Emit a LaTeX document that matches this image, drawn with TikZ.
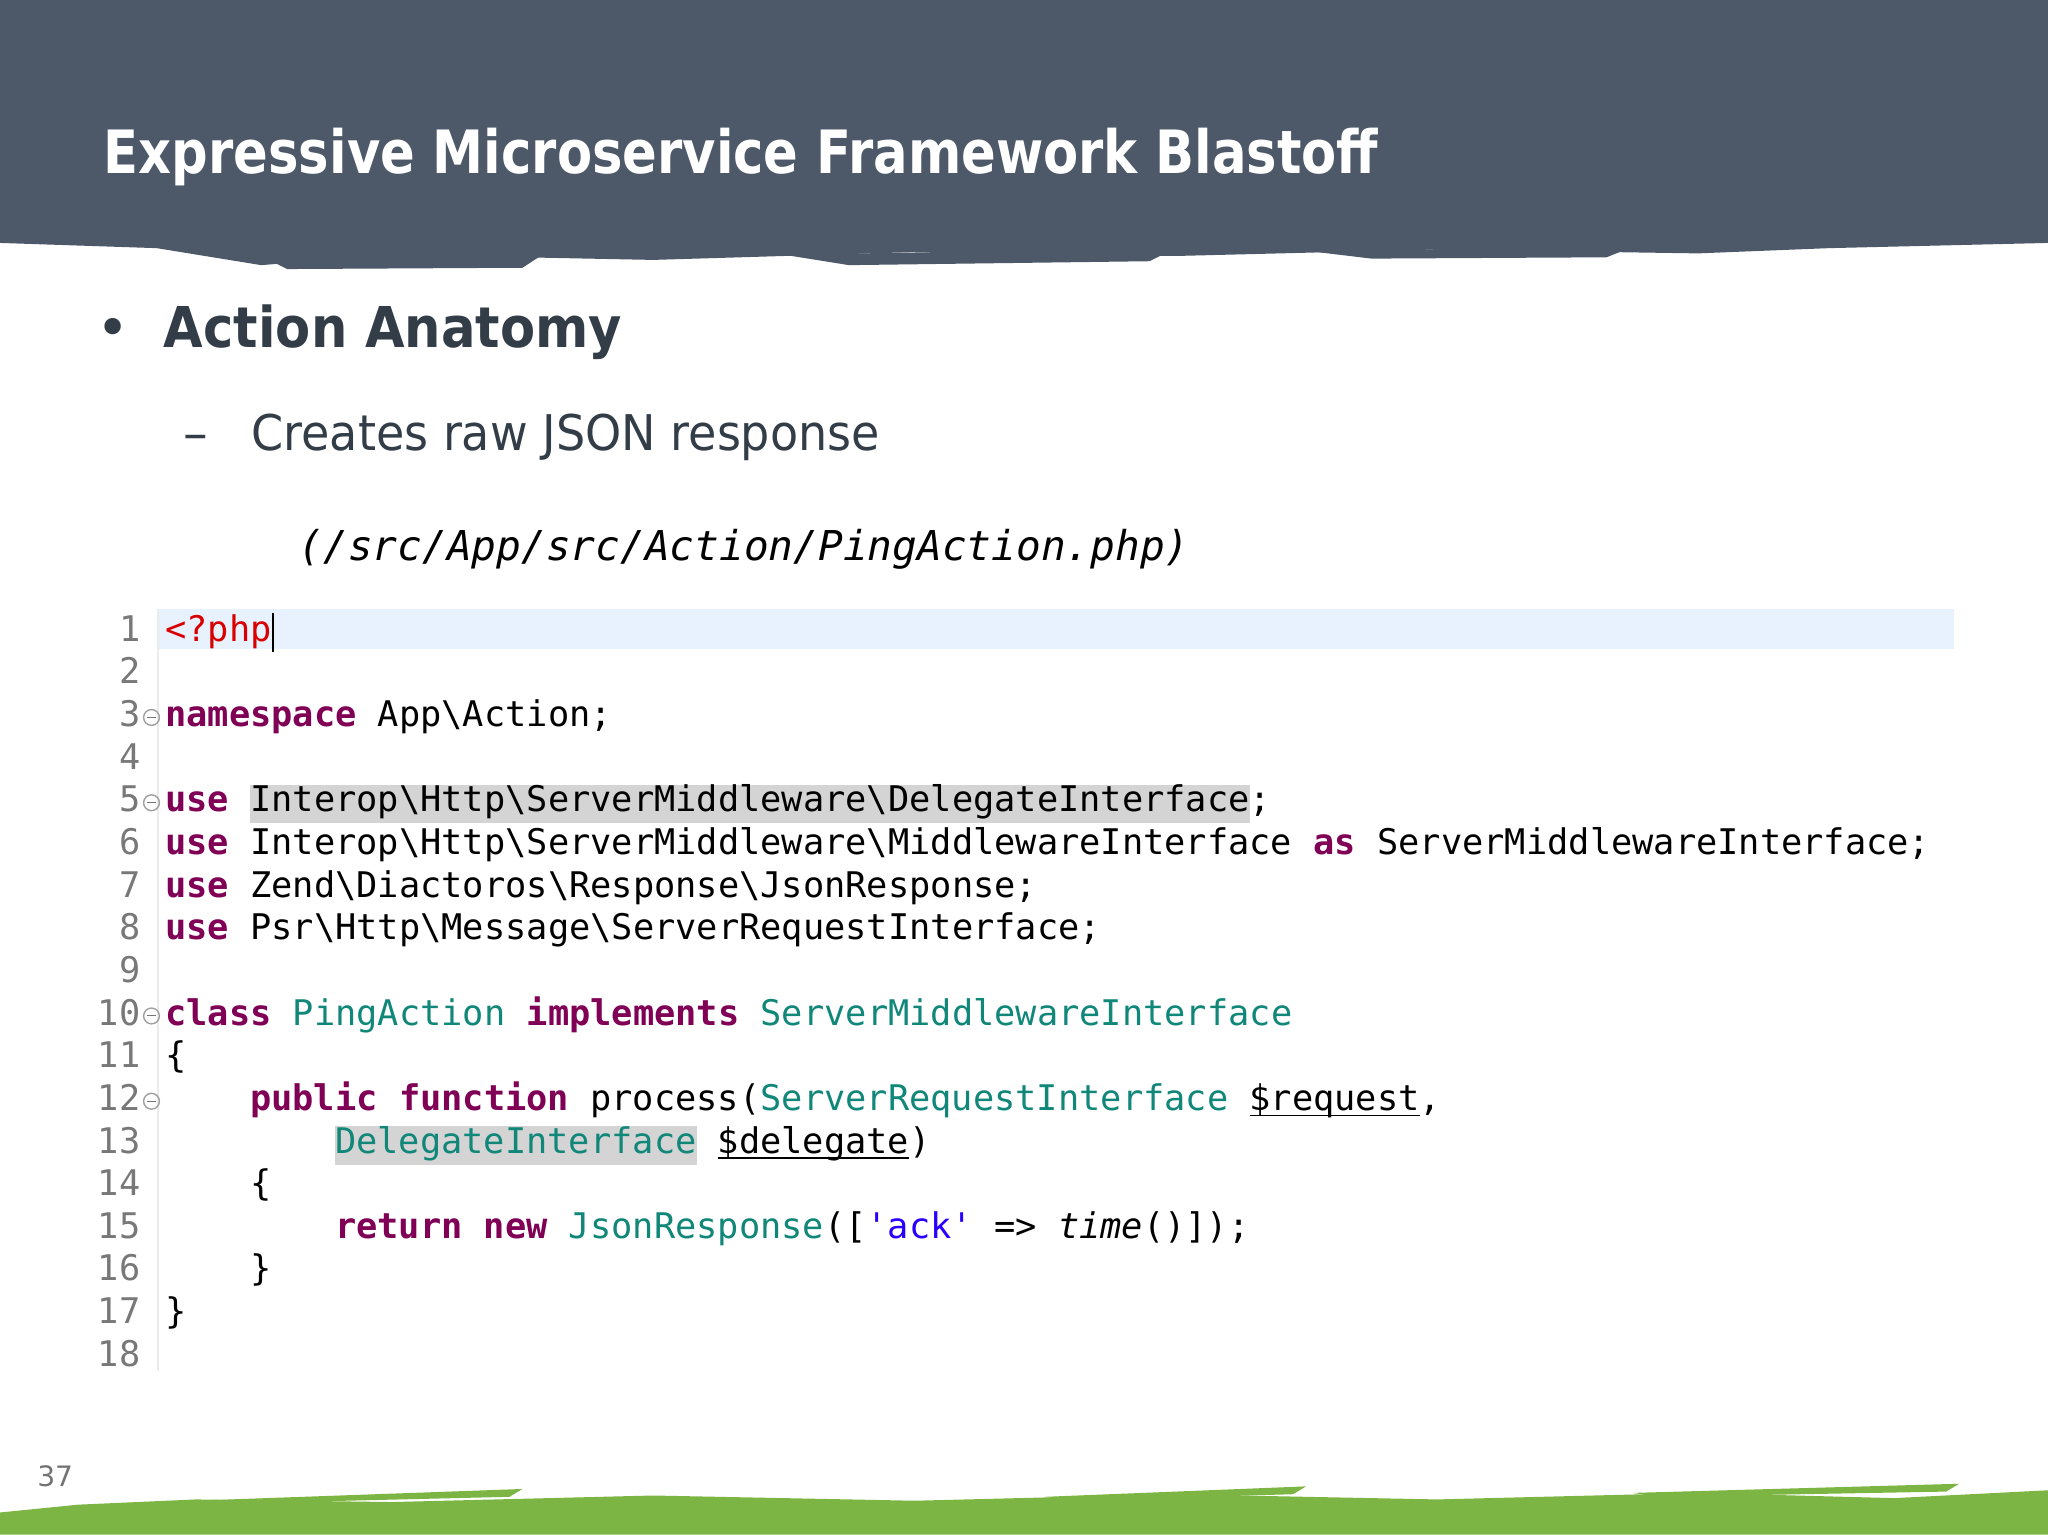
\documentclass[tikz,border=0pt]{standalone}
\usepackage{fontspec}
\setmainfont{DejaVu Sans}
\setmonofont{DejaVu Sans Mono}
\definecolor{hdr}{HTML}{4D5968}
\definecolor{txt}{HTML}{333D48}
\definecolor{kw}{HTML}{7F0055}
\definecolor{ty}{HTML}{11877A}
\definecolor{str}{HTML}{2A00FF}
\definecolor{lno}{HTML}{787878}
\definecolor{grn}{HTML}{7DB544}
\definecolor{hl}{HTML}{E8F2FE}
\newcommand{\bs}{\textbackslash}
\newcommand{\K}[1]{\textcolor{kw}{\bfseries #1}}
\newcommand{\T}[1]{\textcolor{ty}{#1}}
\newcommand{\G}[1]{\colorbox{black!17}{\strut #1}}
\newcommand{\U}[1]{\underline{\smash{#1}}}
\begin{document}
\begin{tikzpicture}[x=0.01306cm,y=-0.01306cm,
  code/.style={anchor=base west,inner sep=0pt,font=\ttfamily\fontsize{10.05}{11}\selectfont},
  num/.style={anchor=base east,inner sep=0pt,text=lno,font=\ttfamily\fontsize{10.05}{11}\selectfont},
  fold/.style={circle,draw=lno!70,inner sep=0pt,minimum size=4.5pt,path picture={\draw[lno,line width=0.3pt] ([xshift=-1.3pt]path picture bounding box.center)--([xshift=1.3pt]path picture bounding box.center);}}]
\useasboundingbox (0,0) rectangle (1568,1175);
% header
\fill[hdr] (0,0) -- (1568,0) -- (1568,186) -- (1400,190) -- (1300,194) -- (1100,191) -- (900,196) -- (700,193) -- (500,199) -- (300,195) -- (200,203) -- (120,190) -- (0,186) -- cycle;
\fill[hdr] (200,196) -- (420,192) -- (400,205) -- (220,206) -- cycle;
\fill[hdr] (600,195) -- (900,190) -- (880,200) -- (650,203) -- cycle;
\fill[hdr] (1000,192) -- (1250,189) -- (1230,197) -- (1050,198) -- cycle;
\node[anchor=base west,text=white,font=\fontsize{17}{20}\selectfont\bfseries,inner sep=0pt] (title) at (79,133) {\scalebox{0.857}[1]{Expressive Microservice Framework Blastoff}};
% bullets
\node[anchor=base west,text=txt,font=\fontsize{16}{19}\selectfont,inner sep=0pt] (b1) at (73,266) {•};
\node[anchor=base west,text=txt,font=\fontsize{16}{19}\selectfont\bfseries,inner sep=0pt] (t1) at (125,266) {\scalebox{0.91}[1]{Action Anatomy}};
\node[anchor=base west,text=txt,font=\fontsize{14}{17}\selectfont,inner sep=0pt] (b2) at (140,345) {–};
\node[anchor=base west,text=txt,font=\fontsize{14}{17}\selectfont,inner sep=0pt] (t2) at (192,345) {\scalebox{0.936}[1]{Creates raw JSON response}};
\node[anchor=base west,text=black,font=\ttfamily\itshape\fontsize{11.7}{15}\selectfont,inner sep=0pt] (path) at (228,429) {(/src/App/src/Action/PingAction.php)};
% code
\fill[hl] (122,466) rectangle (1496,497);
\draw[black!8] (121,466) -- (121,1050);
\foreach \i in {1,...,18}{\node[num] (n\i) at (108,{481+(\i-1)*32.65+10}) {\i};}
\foreach \i in {3,5,10,12}{\node[fold] (f\i) at (116,{481+(\i-1)*32.65+3}) {};}
\def\Y#1{{481+(#1-1)*32.65+10}}
\node[code] (c1) at (126,\Y1) {\textcolor{red!85!black}{<?php}\rule[-3pt]{0.8pt}{11pt}};
\node[code] (c3) at (126,\Y3) {\K{namespace} App\bs Action;};
\node[code] (c5) at (126,\Y5) {\K{use} {\setlength{\fboxsep}{0pt}\G{Interop\bs Http\bs ServerMiddleware\bs DelegateInterface}};};
\node[code] (c6) at (126,\Y6) {\K{use} Interop\bs Http\bs ServerMiddleware\bs MiddlewareInterface \K{as} ServerMiddlewareInterface;};
\node[code] (c7) at (126,\Y7) {\K{use} Zend\bs Diactoros\bs Response\bs JsonResponse;};
\node[code] (c8) at (126,\Y8) {\K{use} Psr\bs Http\bs Message\bs ServerRequestInterface;};
\node[code] (c10) at (126,\Y{10}) {\K{class} \T{PingAction} \K{implements} \T{ServerMiddlewareInterface}};
\node[code] (c11) at (126,\Y{11}) {\{};
\node[code] (c12) at (191,\Y{12}) {\K{public} \K{function} process(\T{ServerRequestInterface} \U{\$request},};
\node[code] (c13) at (256,\Y{13}) {{\setlength{\fboxsep}{0pt}\G{\T{DelegateInterface}}} \U{\$delegate})};
\node[code] (c14) at (191,\Y{14}) {\{};
\node[code] (c15) at (256,\Y{15}) {\K{return} \K{new} \T{JsonResponse}([\textcolor{str}{'ack'} => \textit{time}()]);};
\node[code] (c16) at (191,\Y{16}) {\}};
\node[code] (c17) at (126,\Y{17}) {\}};
% footer
\node[anchor=base west,text=black!55,font=\fontsize{8}{10}\selectfont,inner sep=0pt] (pg) at (28,1138) {37};
\fill[grn] (0,1175) -- (0,1158) -- (60,1152) -- (150,1148) -- (300,1150) -- (500,1145) -- (700,1149) -- (900,1144) -- (1100,1148) -- (1300,1143) -- (1450,1147) -- (1568,1141) -- (1568,1175) -- cycle;
\fill[grn] (120,1150) -- (400,1140) -- (390,1146) -- (140,1152) -- cycle;
\fill[grn] (800,1146) -- (1000,1138) -- (990,1144) -- (820,1149) -- cycle;
\fill[grn] (1250,1143) -- (1500,1136) -- (1490,1142) -- (1270,1146) -- cycle;
\end{tikzpicture}
\end{document}
